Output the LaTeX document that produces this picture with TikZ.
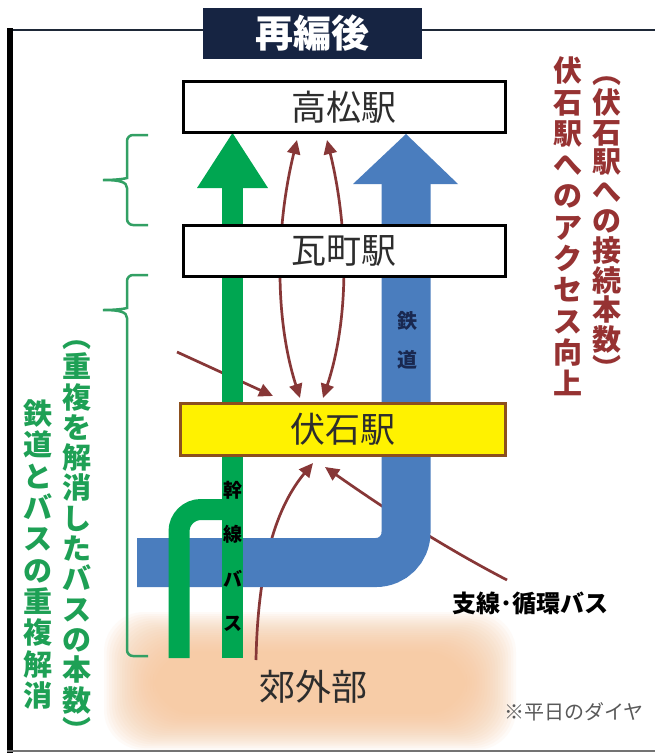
\documentclass[tikz,border=0pt]{standalone}
\usepackage{fontspec}
\setmainfont{Noto Sans CJK JP}
\usetikzlibrary{arrows.meta}
\definecolor{navy}{RGB}{22,36,66}
\definecolor{framec}{RGB}{30,40,55}
\definecolor{busgreen}{RGB}{0,166,81}
\definecolor{railblue}{RGB}{74,125,190}
\definecolor{arrred}{RGB}{135,55,55}
\definecolor{txtred}{RGB}{150,50,50}
\definecolor{bracegreen}{RGB}{50,160,100}
\definecolor{txtgreen}{RGB}{30,160,85}
\definecolor{peach}{RGB}{247,196,150}
\definecolor{stbrown}{RGB}{140,80,30}
\definecolor{sttext}{RGB}{45,45,45}
\definecolor{railtxt}{RGB}{25,40,80}
\tikzset{
  station/.style={draw=black, line width=3pt, fill=white, minimum width=322pt, minimum height=51pt, inner sep=0pt, text=sttext, font=\fontsize{35}{35}\selectfont},
  redarr/.style={draw=arrred, line width=2.7pt, -{Triangle[length=14pt,width=13pt]}},
  redboth/.style={draw=arrred, line width=2.7pt, {Triangle[length=14pt,width=13pt]}-{Triangle[length=14pt,width=13pt]}},
  bracestyle/.style={draw=bracegreen, line width=2.5pt},
  vred/.style={text=txtred, align=center, inner sep=0pt, font=\fontsize{29}{31.3}\selectfont\bfseries},
  vgreen/.style={text=txtgreen, align=center, inner sep=0pt, font=\fontsize{29}{31.3}\selectfont\bfseries},
}
\begin{document}
\begin{tikzpicture}[x=1pt,y=-1pt]
\useasboundingbox (0,0) rectangle (654,753);
\fill[white] (0,0) rectangle (654,753);
% frame
\draw[framec, line width=2.5pt] (7,30) -- (660,30);
\draw[black, line width=6pt] (10,28) -- (10,760);
\draw[black!55, line width=2pt] (7,751) -- (660,751);
% title
\node[fill=navy, minimum width=219pt, minimum height=51pt, inner sep=0pt, text=white, font=\fontsize{38}{38}\selectfont\bfseries] (title) at (312.5,33.5) {再編後};
% suburb blob (soft, blurred)
\foreach \k in {0,...,19} {
  \fill[peach, opacity=0.075, rounded corners=40pt] (104+2.6*\k,612+2.1*\k) rectangle (516-2.6*\k,750-1.9*\k);
}
\node[text=sttext, font=\fontsize{36}{36}\selectfont] (suburb) at (313,687) {郊外部};
% named points for red arrows
\coordinate (tkL) at (297,140);
\coordinate (tkR) at (327,140);
\coordinate (fsL) at (300,398);
\coordinate (fsR) at (323,398);
\coordinate (fsW) at (273,396);
\coordinate (nw) at (177,352);
\coordinate (fsB1) at (313,463);
\coordinate (fsB2) at (325,467);
\coordinate (sub1) at (256,660);
\coordinate (br) at (507,580);
% red arrows (behind everything else)
\draw[redboth] (fsL) .. controls (275,320) and (275,230) .. (tkL);
\draw[redboth] (fsR) .. controls (349,320) and (349,230) .. (tkR);
\draw[redarr] (nw) -- (fsW);
\draw[redarr] (sub1) .. controls (258,560) and (278,505) .. (fsB1);
\draw[redarr] (br) .. controls (430,540) and (365,495) .. (fsB2);
% blue railway
\draw[railblue, line width=49pt, rounded corners=30pt] (137,562.5) -- (406,562.5) -- (406,180);
\fill[railblue] (353,184) -- (458,184) -- (406,134) -- cycle;
% green trunk bus
\draw[busgreen, line width=21pt, rounded corners=22pt] (179,658) -- (179,509.5) -- (232.5,509.5);
\draw[busgreen, line width=21pt] (232.5,658) -- (232.5,184);
\fill[busgreen] (197,188) -- (268,188) -- (232.5,133) -- cycle;
% stations
\node[station] (takamatsu) at (344,107) {高松駅};
\node[station] (kawaramachi) at (344,251) {瓦町駅};
\node[station, draw=stbrown, fill=yellow, minimum width=325pt, minimum height=52pt] (fuseishi) at (342.5,429) {伏石駅};
% labels on routes
\node[align=center, inner sep=0pt, font=\fontsize{19}{44.3}\selectfont\bfseries, text=black] (kansen) at (233,556.5) {幹\\線\\バ\\ス};
\node[align=center, inner sep=0pt, font=\fontsize{20}{39}\selectfont\bfseries, text=railtxt] (tetsudo) at (407,340.5) {鉄\\道};
\node[font=\fontsize{24}{24}\selectfont\bfseries, text=black] (shisen) at (530,603) {支線･循環バス};
\node[font=\fontsize{20}{20}\selectfont, text=black!65] (note) at (574,712) {※平日のダイヤ};
% right red vertical text
\node[vred] (access) at (568,226.5) {伏\\石\\駅\\へ\\の\\ア\\ク\\セ\\ス\\向\\上};
\node[vred, font=\fontsize{29}{29.6}\selectfont\bfseries] (accessnote) at (607,228.5) {︵\\伏\\石\\駅\\へ\\の\\接\\続\\本\\数\\︶};
% braces
\draw[bracestyle] (148,135) [rounded corners=6pt] -- (127,135) -- (127,172) [sharp corners] .. controls (127,178) and (120,180) .. (103,180) .. controls (120,180) and (127,182) .. (127,188) [rounded corners=6pt] -- (127,225) -- (148,225);
\draw[bracestyle] (148,275) [rounded corners=6pt] -- (127,275) -- (127,302) [sharp corners] .. controls (127,308) and (120,310) .. (103,310) .. controls (120,310) and (127,312) .. (127,318) [rounded corners=6pt] -- (127,656) -- (148,656);
% left green vertical text
\node[vgreen] (overlap) at (38,554.5) {鉄\\道\\と\\バ\\ス\\の\\重\\複\\解\\消};
\node[vgreen, font=\fontsize{29}{30.3}\selectfont\bfseries] (overlapnote) at (77,541) {︵\\重\\複\\を\\解\\消\\し\\た\\バ\\ス\\の\\本\\数\\︶};
\end{tikzpicture}
\end{document}
